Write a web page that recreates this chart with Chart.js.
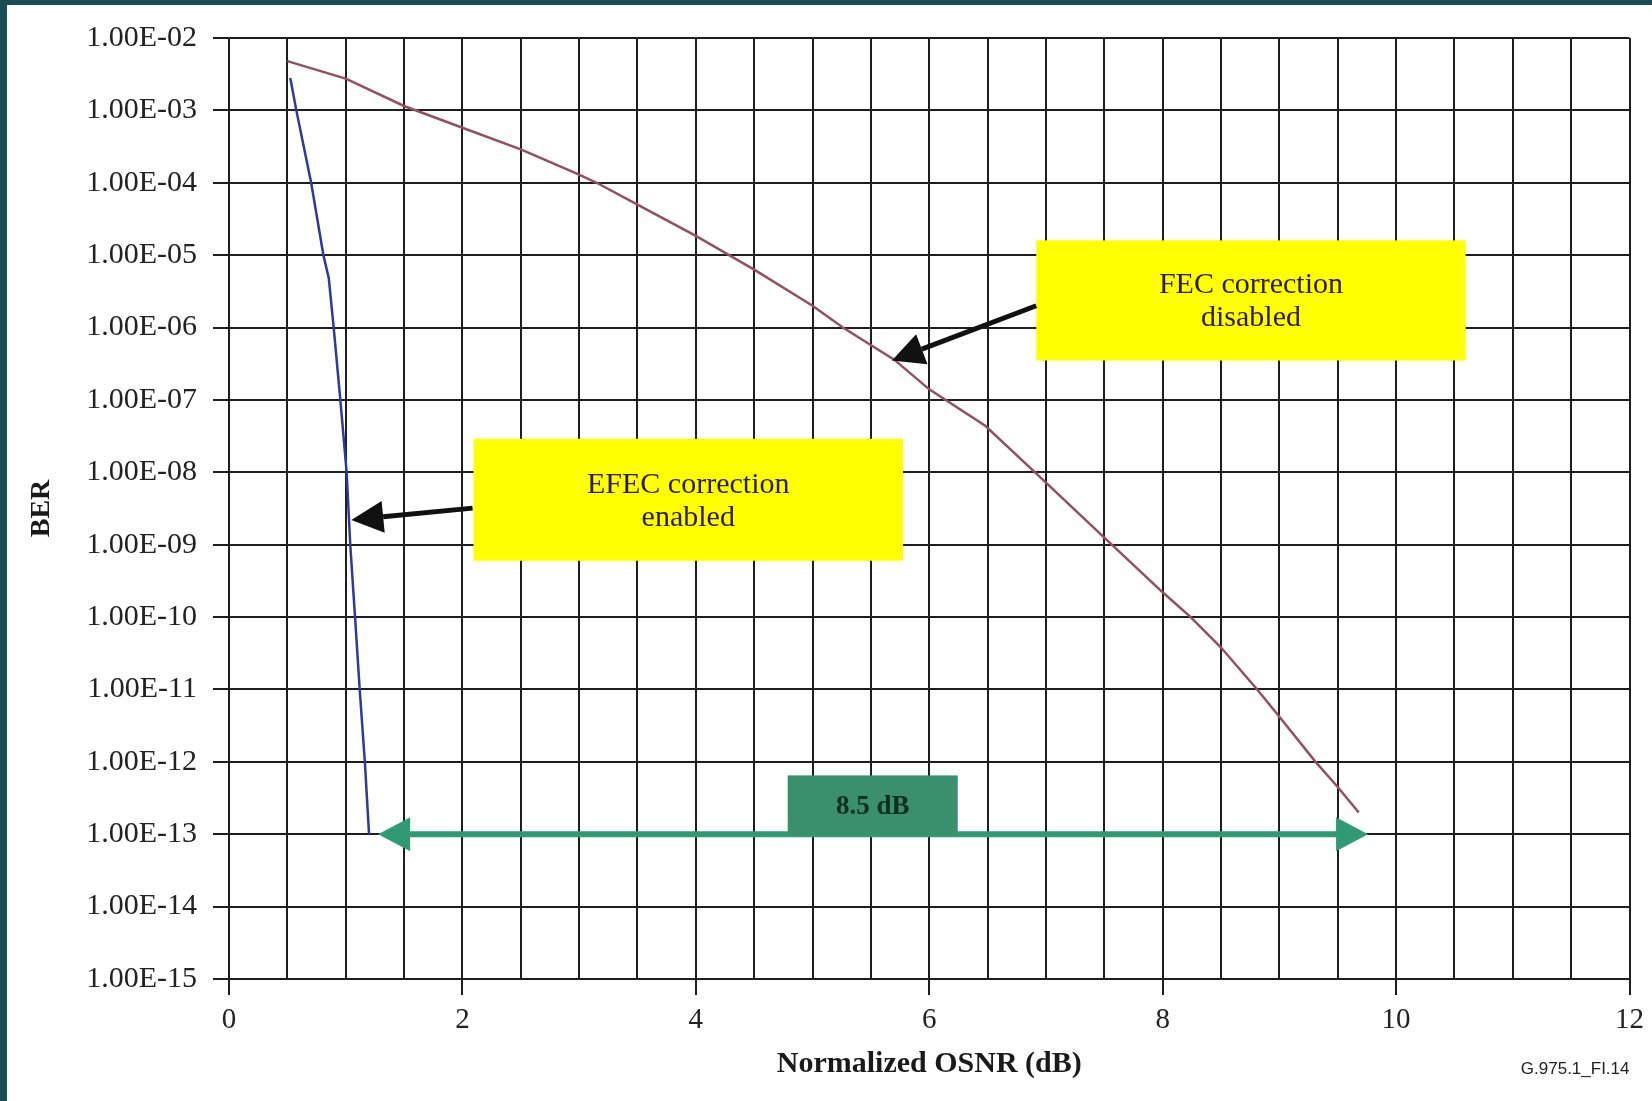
<!DOCTYPE html>
<html>
<head>
<meta charset="utf-8">
<script src="https://cdn.jsdelivr.net/npm/chart.js@4.4.1/dist/chart.umd.min.js"></script>
<style>
  html, body { margin: 0; padding: 0; background: #fff; }
  #wrap { position: relative; width: 1652px; height: 1101px; overflow: hidden; background: #fff; }
  #frameTop { position: absolute; left: 0; top: 0; width: 1652px; height: 5px; background: #1c4d55; }
  #frameLeft { position: absolute; left: 0; top: 0; width: 7px; height: 1101px; background: #1c4d55; }
  canvas { position: absolute; left: 0; top: 0; }
</style>
</head>
<body>
<div id="wrap">
  <canvas id="berChart" width="1652" height="1101"></canvas>
  <div id="frameTop"></div>
  <div id="frameLeft"></div>
</div>
<script>
// BER vs normalized OSNR

// FEC disabled (maroon curve)
const fecOffOsnr = [0.5, 1.0, 1.5, 2.0, 2.5, 3.0, 3.15, 3.5, 4.0, 4.5, 5.0, 5.26, 5.7, 6.0, 6.48, 7.0, 7.5, 8.0, 8.24, 8.5, 8.81, 9.0, 9.31, 9.5, 9.68];
const fecOffBer  = [4.8e-3, 2.75e-3, 1.15e-3, 5.75e-4, 2.9e-4, 1.3e-4, 1.0e-4, 5.0e-5, 1.85e-5, 6.3e-6, 2.0e-6, 1.0e-6, 3.6e-7, 1.4e-7, 4.4e-8, 7.2e-9, 1.25e-9, 2.2e-10, 1.0e-10, 3.8e-11, 1.0e-11, 4.2e-12, 1.0e-12, 4.5e-13, 2.0e-13];

// EFEC enabled (blue curve)
const efecOnOsnr = [0.525, 0.577, 0.704, 0.809, 0.855, 0.897, 0.954, 1.008, 1.039, 1.08, 1.12, 1.164, 1.2];
const efecOnBer  = [2.8e-3, 1.0e-3, 1.0e-4, 1.0e-5, 4.8e-6, 1.0e-6, 1.0e-7, 1.0e-8, 1.0e-9, 1.0e-10, 1.0e-11, 1.0e-12, 1.0e-13];

// axis ticks
const xTickLabels = ['0', '2', '4', '6', '8', '10', '12'];
const yTickValues = [1e-2, 1e-3, 1e-4, 1e-5, 1e-6, 1e-7, 1e-8, 1e-9, 1e-10, 1e-11, 1e-12, 1e-13, 1e-14, 1e-15];
const yTickLabels = ['1.00E-02', '1.00E-03', '1.00E-04', '1.00E-05', '1.00E-06', '1.00E-07', '1.00E-08',
                     '1.00E-09', '1.00E-10', '1.00E-11', '1.00E-12', '1.00E-13', '1.00E-14', '1.00E-15'];

// annotation texts
const efecBoxText = ['EFEC correction', 'enabled'];
const fecBoxText = ['FEC correction', 'disabled'];
const gainText = '8.5 dB';
const figureId = 'G.975.1_FI.14';

const SERIF = '"Liberation Serif", "Times New Roman", serif';
const GRID = '#1e1e1e';

function toPoints(xs, ys) {
    return xs.map((v, i) => ({ x: v, y: ys[i] }));
}

function drawArrow(ctx, x1, y1, x2, y2, lineW, headLen, headHalf, color) {
    const ang = Math.atan2(y2 - y1, x2 - x1);
    const bx = x2 - headLen * Math.cos(ang);
    const by = y2 - headLen * Math.sin(ang);
    ctx.strokeStyle = color;
    ctx.fillStyle = color;
    ctx.lineWidth = lineW;
    ctx.beginPath();
    ctx.moveTo(x1, y1);
    ctx.lineTo(bx, by);
    ctx.stroke();
    ctx.beginPath();
    ctx.moveTo(x2, y2);
    ctx.lineTo(bx + headHalf * Math.sin(ang), by - headHalf * Math.cos(ang));
    ctx.lineTo(bx - headHalf * Math.sin(ang), by + headHalf * Math.cos(ang));
    ctx.closePath();
    ctx.fill();
}

// yellow boxes, arrows and the 8.5 dB marker, placed in data coordinates
const annotationPlugin = {
    id: 'berAnnotations',
    afterDatasetsDraw(chart) {
        const { ctx, scales: { x, y } } = chart;
        const px = v => x.getPixelForValue(v);
        const py = v => y.getPixelForValue(v);
        ctx.save();

        // EFEC box
        const e = { x0: 2.095, x1: 5.775, yTop: 2.9e-8, yBot: 6.0e-10 };
        ctx.fillStyle = '#ffff00';
        ctx.fillRect(px(e.x0), py(e.yTop), px(e.x1) - px(e.x0), py(e.yBot) - py(e.yTop));
        ctx.fillStyle = '#2b1d0e';
        ctx.font = '30px ' + SERIF;
        ctx.textAlign = 'center';
        ctx.textBaseline = 'middle';
        let cx = (px(e.x0) + px(e.x1)) / 2;
        let cy = (py(e.yTop) + py(e.yBot)) / 2;
        ctx.fillText(efecBoxText[0], cx, cy - 15);
        ctx.fillText(efecBoxText[1], cx, cy + 18);
        drawArrow(ctx, px(2.087), py(3.2e-9), px(1.048), py(2.2e-9), 5, 32, 16, '#111');

        // FEC box
        const f = { x0: 6.917, x1: 10.596, yTop: 1.6e-5, yBot: 3.5e-7 };
        ctx.fillStyle = '#ffff00';
        ctx.fillRect(px(f.x0), py(f.yTop), px(f.x1) - px(f.x0), py(f.yBot) - py(f.yTop));
        ctx.fillStyle = '#2b1d0e';
        cx = (px(f.x0) + px(f.x1)) / 2;
        cy = (py(f.yTop) + py(f.yBot)) / 2;
        ctx.fillText(fecBoxText[0], cx, cy - 15);
        ctx.fillText(fecBoxText[1], cx, cy + 18);
        drawArrow(ctx, px(6.917), py(2.0e-6), px(5.68), py(3.5e-7), 5, 32, 16, '#111');

        // 8.5 dB double arrow
        const ay = py(1e-13);
        const ax0 = px(1.278), ax1 = px(9.76);
        drawArrow(ctx, (ax0 + ax1) / 2, ay, ax1, ay, 6, 32, 17, '#2f9a74');
        drawArrow(ctx, (ax0 + ax1) / 2, ay, ax0, ay, 6, 32, 17, '#2f9a74');

        // 8.5 dB label box
        const g = { x0: 4.787, x1: 6.244, yTop: 6.5e-13, yBot: 1e-13 };
        ctx.fillStyle = '#3a8f6d';
        ctx.fillRect(px(g.x0), py(g.yTop), px(g.x1) - px(g.x0), py(g.yBot) - py(g.yTop));
        ctx.fillStyle = '#10301f';
        ctx.font = 'bold 27px ' + SERIF;
        ctx.fillText(gainText, (px(g.x0) + px(g.x1)) / 2, (py(g.yTop) + py(g.yBot)) / 2 + 2);

        ctx.restore();
    },
    afterDraw(chart) {
        const { ctx, chartArea } = chart;
        ctx.save();
        ctx.fillStyle = '#222';
        ctx.font = '17px "Liberation Sans", Arial, sans-serif';
        ctx.textAlign = 'right';
        ctx.textBaseline = 'middle';
        ctx.fillText(figureId, chartArea.right, 1069);
        ctx.restore();
    }
};

const ctx = document.getElementById('berChart').getContext('2d');
new Chart(ctx, {
    type: 'line',
    data: {
        datasets: [
            {
                label: 'FEC correction disabled',
                data: toPoints(fecOffOsnr, fecOffBer),
                borderColor: '#94505e',
                borderWidth: 2.5,
                pointRadius: 0,
                tension: 0,
                fill: false
            },
            {
                label: 'EFEC correction enabled',
                data: toPoints(efecOnOsnr, efecOnBer),
                borderColor: '#2b3a9c',
                borderWidth: 2.5,
                pointRadius: 0,
                tension: 0,
                fill: false
            }
        ]
    },
    options: {
        responsive: false,
        animation: false,
        layout: { padding: { top: 38, right: 14, left: 0, bottom: 0 } },
        plugins: {
            legend: { display: false },
            tooltip: { enabled: false }
        },
        scales: {
            x: {
                type: 'linear',
                min: 0,
                max: 12,
                afterFit: s => { s.height = 122; },
                ticks: {
                    stepSize: 0.5,
                    autoSkip: false,
                    maxRotation: 0,
                    padding: 8,
                    color: '#222',
                    font: { family: SERIF, size: 29 },
                    callback: v => (v % 2 === 0 ? xTickLabels[v / 2] : '')
                },
                grid: {
                    color: GRID,
                    lineWidth: 2,
                    tickLength: 16,
                    tickColor: c => (c.tick && c.tick.value % 2 === 0 ? GRID : 'rgba(0,0,0,0)')
                },
                border: { color: GRID, width: 2 },
                title: {
                    display: true,
                    text: 'Normalized OSNR (dB)',
                    color: '#1a1a1a',
                    font: { family: SERIF, size: 30, weight: 'bold' },
                    padding: { top: 0, bottom: 19 }
                }
            },
            y: {
                type: 'logarithmic',
                min: 1e-15,
                max: 1e-2,
                afterFit: s => { s.width = 229; },
                afterBuildTicks: axis => {
                    axis.ticks = yTickValues.slice().reverse().map(v => ({ value: v }));
                },
                ticks: {
                    padding: 16,
                    color: '#222',
                    font: { family: SERIF, size: 30 },
                    callback: v => {
                        const i = yTickValues.findIndex(t => Math.round(Math.log10(t)) === Math.round(Math.log10(v)));
                        return i >= 0 ? yTickLabels[i] : '';
                    }
                },
                grid: {
                    color: GRID,
                    lineWidth: 2,
                    tickLength: 16,
                    tickColor: GRID
                },
                border: { color: GRID, width: 2 },
                title: {
                    display: true,
                    text: 'BER',
                    color: '#1a1a1a',
                    font: { family: SERIF, size: 28, weight: 'bold' },
                    padding: { top: 25, bottom: 0 }
                }
            }
        }
    },
    plugins: [annotationPlugin]
});
</script>
</body>
</html>
